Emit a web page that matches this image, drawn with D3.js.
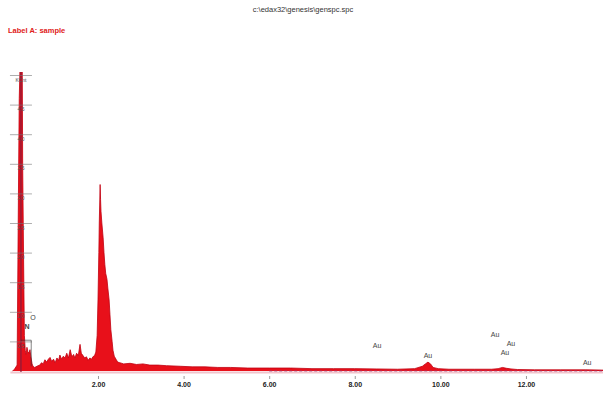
<!DOCTYPE html>
<html lang="en">
<head>
<meta charset="utf-8">
<title>EDS spectrum</title>
<script type="text/javascript" src="https://cdnjs.cloudflare.com/ajax/libs/d3/7.8.5/d3.min.js"></script>
<style>
body { margin: 0; background: #fff; }
svg { display: block; font-family: "Liberation Sans", Arial, sans-serif; }
.title { font-size: 7.5px; fill: #333; }
.label-a { font-size: 7.5px; fill: #e02020; font-weight: bold; }
.xlab { font-size: 7px; font-weight: bold; fill: #222; }
.ylab { font-size: 5px; fill: #555; }
.peak { font-size: 7px; fill: #444; }
</style>
</head>
<body>
<div id="chart"></div>
<script type="text/javascript">

// spectrum, energy in keV and counts in KCnt
var energy = [0.00,0.04,0.11,0.14,0.16,0.18,0.23,0.24,0.26,0.28,0.30,0.32,0.34,0.36,0.39,0.41,0.43,0.46,0.48,0.52,
  0.55,0.60,0.64,0.68,0.72,0.76,0.80,0.84,0.88,0.92,0.96,1.00,1.04,1.08,1.11,1.15,1.19,1.23,1.27,1.31,
  1.35,1.39,1.43,1.46,1.50,1.54,1.58,1.61,1.65,1.69,1.73,1.77,1.81,1.85,1.88,1.92,1.95,1.98,2.00,2.02,
  2.03,2.05,2.06,2.07,2.09,2.12,2.14,2.16,2.18,2.21,2.23,2.26,2.28,2.30,2.33,2.35,2.38,2.42,2.46,2.51,
  2.60,2.75,2.90,3.05,3.21,3.40,3.60,3.92,4.20,4.50,4.80,5.10,5.50,6.00,6.50,7.00,7.50,8.00,8.50,9.00,
  9.40,9.58,9.65,9.71,9.77,9.83,9.95,10.2,10.8,11.2,11.35,11.45,11.55,11.65,11.8,12.2,12.8,13.4,13.8];
var counts = [0,0.02,0.10,2.90,4.60,5.20,5.20,3.50,2.00,0.60,0.35,0.28,0.40,0.33,0.30,0.36,0.25,0.12,0.08,0.06,
  0.07,0.09,0.10,0.14,0.12,0.19,0.15,0.20,0.23,0.16,0.20,0.14,0.22,0.18,0.27,0.20,0.25,0.22,0.30,0.22,
  0.36,0.24,0.28,0.22,0.30,0.26,0.45,0.30,0.26,0.22,0.24,0.18,0.22,0.20,0.24,0.26,0.32,0.60,1.20,2.00,
  2.50,3.15,2.90,2.70,2.50,2.25,2.00,1.80,1.65,1.55,1.40,1.20,0.95,0.70,0.50,0.35,0.25,0.20,0.15,0.14,
  0.12,0.13,0.11,0.12,0.10,0.10,0.09,0.08,0.07,0.07,0.06,0.06,0.05,0.05,0.05,0.04,0.04,0.04,0.035,0.03,
  0.04,0.08,0.12,0.15,0.12,0.06,0.04,0.03,0.03,0.03,0.04,0.06,0.045,0.035,0.025,0.02,0.02,0.02,0.015];

var xTicks = [2, 4, 6, 8, 10, 12];
var yTicks = [0.5, 1.0, 1.5, 2.0, 2.5, 3.0, 3.5, 4.0, 4.5, 5.0];
var yTickLabels = ["0.5", "1.0", "1.5", "2.0", "2.5", "3.0", "3.5", "4.0", "4.5", "KCnt"];

var peakNames = ["N", "O", "Au", "Au", "Au", "Au", "Au", "Au"];
var peakEnergy = [0.34, 0.48, 8.52, 9.71, 11.28, 11.65, 11.51, 13.43];
var peakHeight = [0.74, 0.90, 0.42, 0.25, 0.61, 0.46, 0.30, 0.14];

var titleText = "c:\\edax32\\genesis\\genspc.spc";
var labelText = "Label A: sample";

var width = 606, height = 394;

var svg = d3.select("#chart").append("svg")
    .attr("width", width)
    .attr("height", height);

var x = d3.scaleLinear().domain([0, 13.8]).range([12.4, 603]);
var y = d3.scaleLinear().domain([0, 5]).range([371, 75]);

svg.append("text").attr("class", "title")
    .attr("x", 303).attr("y", 12)
    .attr("text-anchor", "middle")
    .text(titleText);

svg.append("text").attr("class", "label-a")
    .attr("x", 8).attr("y", 33)
    .text(labelText);

svg.append("clipPath").attr("id", "clip")
    .append("rect").attr("x", 0).attr("y", 72).attr("width", width).attr("height", 302);

var pts = energy.map(function(e, i) { return [e, counts[i]]; });

var area = d3.area()
    .x(function(d) { return x(d[0]); })
    .y0(y(0))
    .y1(function(d) { return y(d[1]); });

var line = d3.line()
    .x(function(d) { return x(d[0]); })
    .y(function(d) { return y(d[1]); });

var plot = svg.append("g").attr("clip-path", "url(#clip)");

plot.append("path")
    .datum(pts)
    .attr("d", area)
    .attr("fill", "#e8101a");

plot.append("path")
    .datum(pts)
    .attr("d", line)
    .attr("fill", "none")
    .attr("stroke", "#c00010")
    .attr("stroke-width", 0.8);

// baseline band
svg.append("line")
    .attr("x1", x(0) - 2).attr("x2", x(13.8))
    .attr("y1", y(0) + 1.5).attr("y2", y(0) + 1.5)
    .attr("stroke", "#f2c4cc").attr("stroke-width", 2);
svg.append("line")
    .attr("x1", x(6)).attr("x2", x(13.8))
    .attr("y1", y(0)).attr("y2", y(0))
    .attr("stroke", "#a0407a").attr("stroke-width", 0.8)
    .attr("stroke-dasharray", "3,2");

// x axis
var xAxis = d3.axisBottom(x)
    .tickValues(xTicks)
    .tickSize(3)
    .tickFormat(d3.format(".2f"));

var gx = svg.append("g")
    .attr("transform", "translate(0," + (y(0) + 5) + ")")
    .call(xAxis);
gx.select(".domain").remove();
gx.selectAll(".tick line").attr("stroke", "#555").attr("stroke-width", 0.6);
gx.selectAll(".tick text").attr("class", "xlab").attr("y", 6).attr("font-size", null).attr("font-family", null);

// y axis, drawn on the low-energy peak
var yAxis = d3.axisLeft(y)
    .tickValues(yTicks)
    .tickSizeInner(-11)
    .tickSizeOuter(0)
    .tickFormat(function(d, i) { return yTickLabels[i]; });

var gy = svg.append("g")
    .attr("transform", "translate(" + x(0.2) + ",0)")
    .call(yAxis);
gy.select(".domain").attr("stroke", "#8a1c3a").attr("stroke-width", 1.2)
    .attr("d", "M0," + (y(0) + 1) + "V" + 72);
gy.selectAll(".tick line")
    .attr("x1", -11).attr("x2", 11)
    .attr("stroke", "#777").attr("stroke-width", 0.6);
gy.selectAll(".tick text")
    .attr("class", "ylab")
    .attr("x", 0).attr("dy", null).attr("y", 6)
    .attr("text-anchor", "middle")
    .attr("font-size", null).attr("font-family", null);

// O line marker
svg.append("path")
    .attr("d", "M" + x(0.2) + "," + y(0.52) + "H" + x(0.44) + "V" + y(0.08))
    .attr("fill", "none").attr("stroke", "#333").attr("stroke-width", 0.6);

// peak labels
svg.selectAll(".peak")
    .data(peakNames)
    .enter().append("text")
    .attr("class", "peak")
    .attr("x", function(d, i) { return x(peakEnergy[i]); })
    .attr("y", function(d, i) { return y(peakHeight[i]); })
    .attr("text-anchor", "middle")
    .attr("dominant-baseline", "middle")
    .style("font-weight", function(d) { return d === "N" ? "bold" : null; })
    .text(function(d) { return d; });

</script>
</body>
</html>
